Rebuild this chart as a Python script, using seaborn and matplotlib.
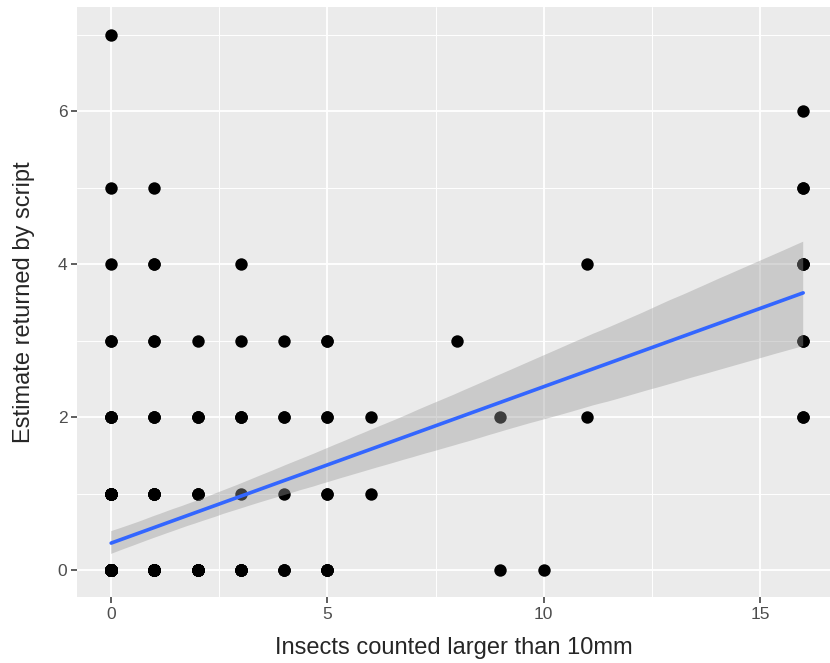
import numpy as np
import pandas as pd
import seaborn as sns
from matplotlib import pyplot as plt

# observed (insects, estimate) pairs and how often each pair occurs
insects = [0, 0, 0, 0, 0, 0, 0,
           1, 1, 1, 1, 1, 1,
           2, 2, 2, 2,
           3, 3, 3, 3, 3,
           4, 4, 4, 4,
           5, 5, 5, 5,
           6, 6,
           8,
           9, 9,
           10,
           11, 11,
           16, 16, 16, 16, 16]
estimate = [0, 1, 2, 3, 4, 5, 7,
            0, 1, 2, 3, 4, 5,
            0, 1, 2, 3,
            0, 1, 2, 3, 4,
            0, 1, 2, 3,
            0, 1, 2, 3,
            1, 2,
            3,
            0, 2,
            0,
            2, 4,
            2, 3, 4, 5, 6]
counts = [120, 10, 4, 2, 1, 1, 1,
          20, 6, 3, 2, 2, 1,
          10, 3, 3, 1,
          6, 1, 3, 1, 1,
          3, 1, 2, 1,
          5, 2, 2, 2,
          1, 1,
          1,
          1, 1,
          1,
          1, 1,
          2, 2, 3, 2, 1]

df = pd.DataFrame({
    "insects": np.repeat(insects, counts),
    "estimate": np.repeat(estimate, counts),
})

sns.set_theme(style="darkgrid", rc={
    "axes.facecolor": "#EBEBEB",
    "grid.color": "white",
    "xtick.bottom": True,
    "ytick.left": True,
    "xtick.color": "#333333",
    "ytick.color": "#333333",
    "xtick.labelcolor": "#4D4D4D",
    "ytick.labelcolor": "#4D4D4D",
})
plt.rcParams["font.family"] = ["Liberation Sans", "DejaVu Sans"]

fig = plt.figure(figsize=(8.3, 6.63), dpi=100)
ax = fig.add_axes([77 / 830, 66 / 663, 753 / 830, 590 / 663])

sns.regplot(data=df, x="insects", y="estimate", ax=ax, color="#999999",
            ci=95, n_boot=3000, seed=1,
            scatter_kws={"s": 80, "color": "black", "alpha": 1, "linewidths": 0},
            line_kws={"lw": 2.6})
ax.lines[-1].set_color("#3366FF")
for coll in ax.collections[1:]:
    coll.set_alpha(0.4)
    coll.set_facecolor("#999999")
    coll.set_edgecolor("none")

ax.set_xlim(-0.79, 16.62)
ax.set_ylim(-0.353, 7.36)
ax.set_xticks([0, 5, 10, 15])
ax.set_yticks([0, 2, 4, 6])
ax.set_xticks([2.5, 7.5, 12.5], minor=True)
ax.set_yticks([1, 3, 5, 7], minor=True)
ax.grid(which="major", color="white", lw=1.3)
ax.grid(which="minor", color="white", lw=0.7)
ax.tick_params(which="major", length=4, width=1.1, labelsize=12.5, pad=3)
ax.tick_params(which="minor", length=0)
for s in ax.spines.values():
    s.set_visible(False)

ax.set_xlabel("Insects counted larger than 10mm", fontsize=17, labelpad=11)
ax.set_ylabel("Estimate returned by script", fontsize=17, labelpad=16)

fig.savefig("out.png", dpi=100)
